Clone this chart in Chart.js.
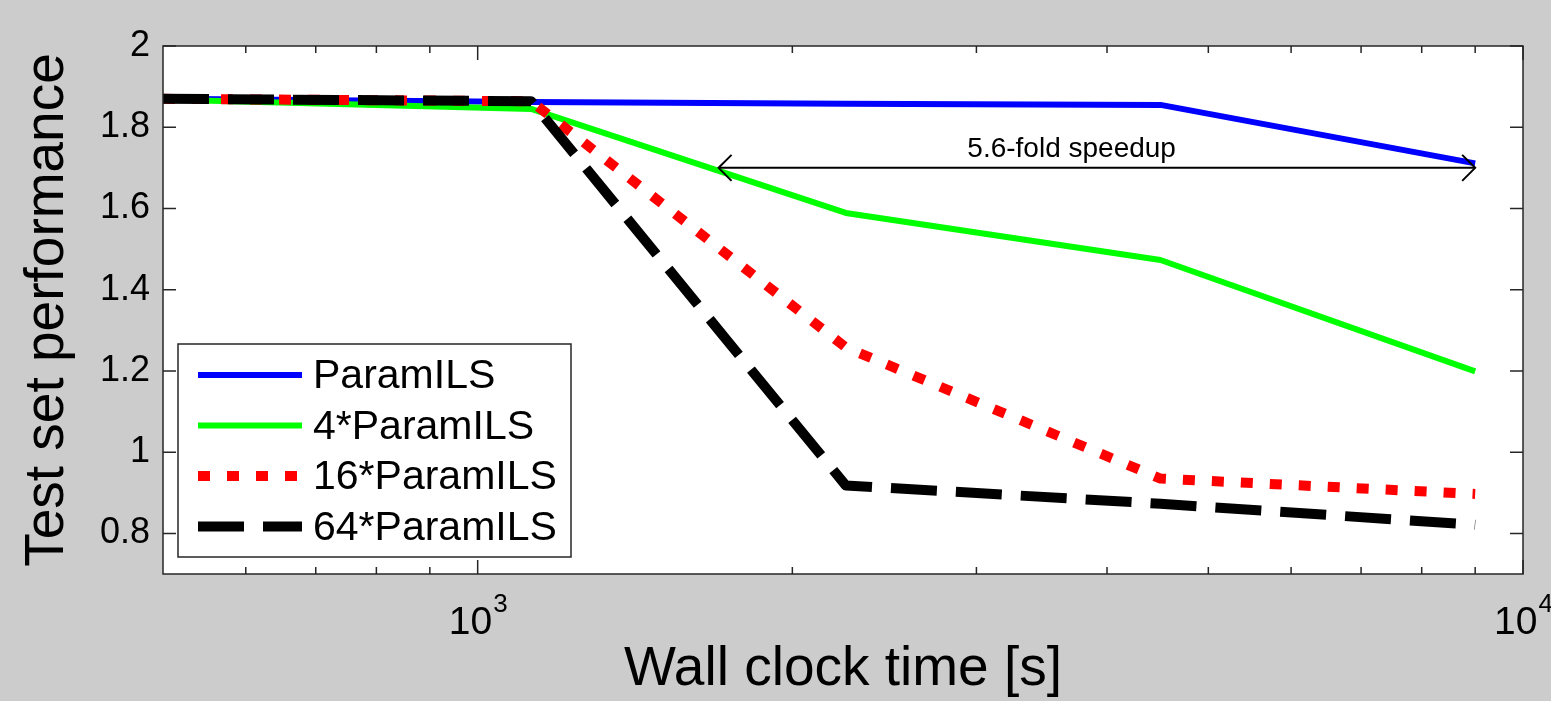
<!DOCTYPE html>
<html>
<head>
<meta charset="utf-8">
<title>ParamILS speedup</title>
<script src="https://cdn.jsdelivr.net/npm/chart.js@4/dist/chart.umd.min.js"></script>
<style>
  html, body { margin: 0; padding: 0; background: #cccccc; }
  canvas { display: block; }
</style>
</head>
<body>
<canvas id="chart-area" width="1551" height="701"></canvas>
<script>
// data
var times = [500, 1125, 2250, 4500, 9000];
var paramILS = [1.870, 1.862, 1.858, 1.855, 1.711];
var paramILS4 = [1.868, 1.845, 1.589, 1.473, 1.199];
var paramILS16 = [1.870, 1.864, 1.258, 0.935, 0.897];
var paramILS64 = [1.870, 1.864, 0.918, 0.873, 0.821];
var seriesNames = ['ParamILS', '4*ParamILS', '16*ParamILS', '64*ParamILS'];

var yTicks = [0.8, 1.0, 1.2, 1.4, 1.6, 1.8, 2.0];
var xMajorTicks = [1000, 10000];
var xMinorTicks = [600, 700, 800, 900, 2000, 3000, 4000, 5000, 6000, 7000, 8000, 9000];

// the "5.6-fold speedup" arrow
var arrowFrom = 1700, arrowTo = 9000, arrowLevel = 1.70;
var arrowText = '5.6-fold speedup', arrowTextAt = 3700;

var FONT = "'Liberation Sans', Arial, Helvetica, sans-serif";

function toPoints(values) {
    var pts = [];
    for (var i = 0; i < times.length; i++) {
        pts.push({x: times[i], y: values[i]});
    }
    return pts;
}

function drawArrowHead(ctx, x, y, dir) {
    ctx.beginPath();
    ctx.moveTo(x - dir * 13, y - 13);
    ctx.lineTo(x, y);
    ctx.lineTo(x - dir * 13, y + 13);
    ctx.stroke();
}

// matlab style frame, ticks, labels, arrow and legend
var matlabFrame = {
    id: 'matlabFrame',
    beforeDraw: function(chart) {
        var ctx = chart.ctx, a = chart.chartArea;
        ctx.save();
        ctx.fillStyle = '#cccccc';
        ctx.fillRect(0, 0, chart.width, chart.height);
        ctx.fillStyle = '#ffffff';
        ctx.fillRect(a.left, a.top, a.right - a.left, a.bottom - a.top);
        ctx.restore();
    },
    afterDraw: function(chart) {
        var ctx = chart.ctx, a = chart.chartArea;
        var x = chart.scales.x, y = chart.scales.y;
        ctx.save();

        // tick marks on all four sides
        ctx.strokeStyle = '#262626';
        ctx.lineWidth = 1.5;
        ctx.beginPath();
        xMinorTicks.forEach(function(v) {
            var px = x.getPixelForValue(v);
            ctx.moveTo(px, a.bottom); ctx.lineTo(px, a.bottom - 7);
            ctx.moveTo(px, a.top); ctx.lineTo(px, a.top + 7);
        });
        xMajorTicks.forEach(function(v) {
            var px = x.getPixelForValue(v);
            ctx.moveTo(px, a.bottom); ctx.lineTo(px, a.bottom - 14);
            ctx.moveTo(px, a.top); ctx.lineTo(px, a.top + 14);
        });
        yTicks.forEach(function(v) {
            var py = y.getPixelForValue(v);
            ctx.moveTo(a.left, py); ctx.lineTo(a.left + 13, py);
            ctx.moveTo(a.right, py); ctx.lineTo(a.right - 13, py);
        });
        ctx.stroke();
        ctx.strokeRect(a.left, a.top, a.right - a.left, a.bottom - a.top);

        // x tick labels 10^3, 10^4
        ctx.fillStyle = '#000000';
        ctx.textBaseline = 'alphabetic';
        ctx.textAlign = 'left';
        xMajorTicks.forEach(function(v) {
            var px = x.getPixelForValue(v);
            var exp = String(Math.round(Math.log10(v)));
            ctx.font = '39px ' + FONT;
            var wBase = ctx.measureText('10').width;
            ctx.font = '26px ' + FONT;
            var wExp = ctx.measureText(exp).width;
            var x0 = px - (wBase + wExp) / 2;
            ctx.font = '39px ' + FONT;
            ctx.fillText('10', x0, a.bottom + 60);
            ctx.font = '26px ' + FONT;
            ctx.fillText(exp, x0 + wBase + 1, a.bottom + 38);
        });

        // speedup arrow
        var ay = y.getPixelForValue(arrowLevel);
        var ax1 = x.getPixelForValue(arrowFrom), ax2 = x.getPixelForValue(arrowTo);
        ctx.strokeStyle = '#000000';
        ctx.lineWidth = 2;
        ctx.beginPath();
        ctx.moveTo(ax1, ay);
        ctx.lineTo(ax2, ay);
        ctx.stroke();
        drawArrowHead(ctx, ax1, ay, -1);
        drawArrowHead(ctx, ax2, ay, 1);
        ctx.font = '28px ' + FONT;
        ctx.textAlign = 'center';
        ctx.fillText(arrowText, x.getPixelForValue(arrowTextAt), ay - 11);

        // legend box
        var lx = 178, ly = 344, lw = 393, lh = 213;
        ctx.fillStyle = '#ffffff';
        ctx.fillRect(lx, ly, lw, lh);
        ctx.strokeStyle = '#262626';
        ctx.lineWidth = 1.5;
        ctx.strokeRect(lx, ly, lw, lh);
        ctx.font = '41px ' + FONT;
        ctx.textAlign = 'left';
        ctx.textBaseline = 'middle';
        chart.data.datasets.forEach(function(ds, i) {
            var rowY = ly + 31 + i * 50.5;
            ctx.save();
            ctx.strokeStyle = ds.borderColor;
            ctx.lineWidth = ds.borderWidth;
            ctx.lineCap = 'butt';
            ctx.setLineDash(ds.borderDash || []);
            ctx.beginPath();
            ctx.moveTo(198, rowY);
            ctx.lineTo(302, rowY);
            ctx.stroke();
            ctx.restore();
            ctx.fillStyle = '#000000';
            ctx.fillText(ds.label, 313, rowY + 2);
        });
        ctx.restore();
    }
};

var config = {
    type: 'line',
    data: {
        datasets: [{
            label: seriesNames[0],
            data: toPoints(paramILS),
            borderColor: '#0000ff',
            borderWidth: 6,
            order: 3
        }, {
            label: seriesNames[1],
            data: toPoints(paramILS4),
            borderColor: '#00ff00',
            borderWidth: 6,
            order: 2
        }, {
            label: seriesNames[2],
            data: toPoints(paramILS16),
            borderColor: '#ff0000',
            borderWidth: 10,
            borderDash: [12, 17],
            order: 1
        }, {
            label: seriesNames[3],
            data: toPoints(paramILS64),
            borderColor: '#000000',
            borderWidth: 10,
            borderDash: [46, 19],
            order: 0
        }]
    },
    options: {
        responsive: false,
        animation: false,
        devicePixelRatio: 1,
        layout: { padding: { top: 46, right: 28, bottom: 0, left: 0 } },
        elements: {
            point: { radius: 0, hoverRadius: 0 },
            line: { tension: 0, fill: false, borderJoinStyle: 'round', borderCapStyle: 'butt' }
        },
        plugins: {
            legend: { display: false },
            tooltip: { enabled: false }
        },
        scales: {
            x: {
                type: 'logarithmic',
                min: 500,
                max: 10000,
                grid: { display: false },
                border: { display: false },
                ticks: { display: false },
                afterBuildTicks: function(scale) { scale.ticks = []; },
                afterFit: function(scale) { scale.height = 127; },
                title: {
                    display: true,
                    text: 'Wall clock time [s]',
                    color: '#000000',
                    font: { family: FONT, size: 55, lineHeight: 1 },
                    padding: { top: 0, bottom: 4 }
                }
            },
            y: {
                min: 0.7,
                max: 2.0,
                grid: { display: false, drawTicks: false },
                border: { display: false },
                afterBuildTicks: function(scale) {
                    scale.ticks = yTicks.map(function(v) { return {value: v}; });
                },
                afterFit: function(scale) { scale.width = 163; },
                ticks: {
                    color: '#000000',
                    padding: 13,
                    font: { family: FONT, size: 36 },
                    callback: function(v) { return String(Number(Number(v).toFixed(1))); }
                },
                title: {
                    display: true,
                    text: 'Test set performance',
                    color: '#000000',
                    font: { family: FONT, size: 55, lineHeight: 1 },
                    padding: { top: 20, bottom: 0 }
                }
            }
        }
    },
    plugins: [matlabFrame]
};

var ctx = document.getElementById('chart-area').getContext('2d');
var myChart = new Chart(ctx, config);
</script>
</body>
</html>
